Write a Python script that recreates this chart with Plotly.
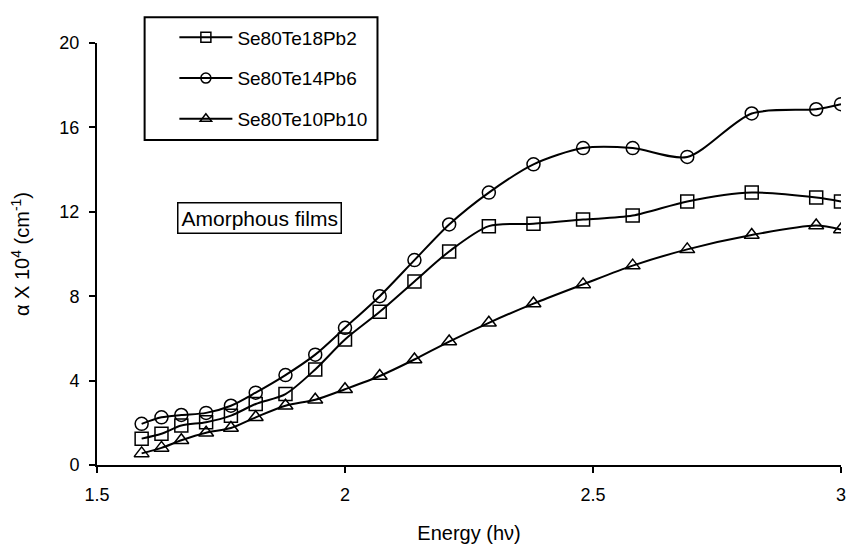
import plotly.graph_objects as go

energy = [1.59, 1.63, 1.67, 1.72, 1.77, 1.82, 1.88, 1.94, 2.0, 2.07, 2.14, 2.21,
          2.29, 2.38, 2.48, 2.58, 2.69, 2.82, 2.95, 3.0]
se80te18pb2 = [1.25, 1.48, 1.87, 2.03, 2.34, 2.89, 3.36, 4.53, 5.95, 7.26, 8.70, 10.12,
               11.32, 11.43, 11.63, 11.82, 12.49, 12.91, 12.68, 12.49]
se80te14pb6 = [1.95, 2.26, 2.37, 2.47, 2.81, 3.43, 4.26, 5.23, 6.5, 8.0, 9.71, 11.4,
               12.91, 14.25, 15.02, 15.02, 14.6, 16.66, 16.86, 17.1]
se80te10pb10 = [0.55, 0.81, 1.17, 1.53, 1.75, 2.26, 2.81, 3.09, 3.59, 4.22, 5.0, 5.85,
                6.74, 7.65, 8.56, 9.45, 10.22, 10.9, 11.35, 11.16]
x_ticks = [1.5, 2, 2.5, 3]
x_tick_text = ["1.5", "2", "2.5", "3"]
y_ticks = [0, 4, 8, 12, 16, 20]

series = [
    ("Se80Te18Pb2", se80te18pb2, "square-open"),
    ("Se80Te14Pb6", se80te14pb6, "circle-open"),
    ("Se80Te10Pb10", se80te10pb10, "triangle-up-open"),
]

fig = go.Figure()
for i, (name, vals, sym) in enumerate(series):
    fig.add_trace(go.Scatter(
        x=energy, y=vals, name=name, mode="lines+markers",
        line=dict(color="black", width=2, shape="spline", smoothing=0.8),
        marker=dict(symbol=sym, size=13, color="black", line=dict(width=1.5, color="black")),
        showlegend=False,
    ))
# legend-only entries (smaller symbols, as in the original legend)
for i, (name, vals, sym) in enumerate(series):
    fig.add_trace(go.Scatter(
        x=[None], y=[None], name=name, mode="lines+markers",
        line=dict(color="black", width=2),
        marker=dict(symbol=sym, size=10, color="black", line=dict(width=1.5, color="black")),
        legendgroup=f"g{i}", showlegend=True,
    ))

font = "Liberation Sans, Arial, sans-serif"
fig.update_layout(
    width=838, height=536,
    paper_bgcolor="white", plot_bgcolor="white",
    margin=dict(l=89, r=0, t=35, b=74),
    font=dict(family=font, size=18, color="black"),
    showlegend=True,
    legend=dict(
        x=0.104, y=1.058, xanchor="left", yanchor="top",
        borderwidth=0, bgcolor="rgba(0,0,0,0)",
        font=dict(size=19), tracegroupgap=13, itemwidth=53,
    ),
    shapes=[dict(
        type="rect", xref="paper", yref="paper",
        x0=0.064, x1=0.377, y0=0.770, y1=1.061,
        line=dict(color="black", width=2), fillcolor="rgba(0,0,0,0)",
    )],
    xaxis=dict(
        range=[1.5, 3.0], tickvals=x_ticks, ticktext=x_tick_text,
        showgrid=False, zeroline=False, showline=True, linecolor="black", linewidth=2,
        ticks="outside", ticklen=6, tickwidth=2, tickcolor="black",
        tickfont=dict(size=18), ticklabelstandoff=6, ticklabeloverflow="allow",
        title=dict(text="Energy (h\u03bd)", font=dict(size=20), standoff=25),
    ),
    yaxis=dict(
        range=[0, 20], tickvals=y_ticks,
        showgrid=False, zeroline=False, showline=True, linecolor="black", linewidth=2,
        ticks="outside", ticklen=6, tickwidth=2, tickcolor="black",
        tickfont=dict(size=18), ticklabelstandoff=6,
        title=dict(text="\u03b1 X 10<sup>4</sup> (cm<sup>-1</sup>)", font=dict(size=20), standoff=26),
    ),
    annotations=[dict(
        text="Amorphous films", x=0.219, y=0.585, xref="paper", yref="paper",
        xanchor="center", yanchor="middle",
        showarrow=False, font=dict(size=21), bordercolor="black", borderwidth=1.5,
        borderpad=3, bgcolor="white",
    )],
)

fig.write_html("out.html")
